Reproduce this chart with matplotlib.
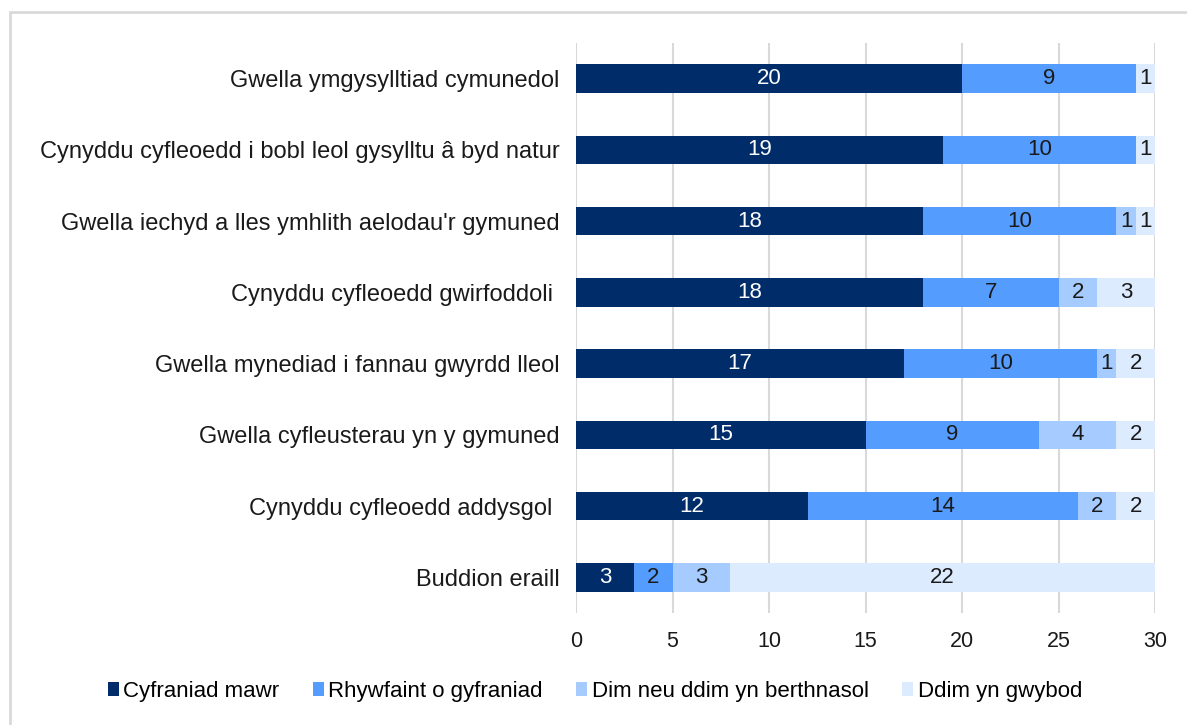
import matplotlib.pyplot as plt
from matplotlib.patches import Rectangle

plt.rcParams['font.family'] = ['Liberation Sans', 'DejaVu Sans']

categories = [
    "Gwella ymgysylltiad cymunedol",
    "Cynyddu cyfleoedd i bobl leol gysylltu â byd natur",
    "Gwella iechyd a lles ymhlith aelodau'r gymuned",
    "Cynyddu cyfleoedd gwirfoddoli ",
    "Gwella mynediad i fannau gwyrdd lleol",
    "Gwella cyfleusterau yn y gymuned",
    "Cynyddu cyfleoedd addysgol ",
    "Buddion eraill",
]
mawr = [20, 19, 18, 18, 17, 15, 12, 3]
rhywfaint = [9, 10, 10, 7, 10, 9, 14, 2]
dim = [0, 0, 1, 2, 1, 4, 2, 3]
ddim_gwybod = [1, 1, 1, 3, 2, 2, 2, 22]

series = [mawr, rhywfaint, dim, ddim_gwybod]
series_names = ["Cyfraniad mawr", "Rhywfaint o gyfraniad",
                "Dim neu ddim yn berthnasol", "Ddim yn gwybod"]
colors = ["#002D6A", "#559CFF", "#A5CBFF", "#DDEBFF"]
text_colors = ["white", "#1a1a1a", "#1a1a1a", "#1a1a1a"]

fig = plt.figure(figsize=(11.87, 7.25), dpi=100)
fig.patches.append(Rectangle((10 / 1187, -0.1), 1.2, 1 - 12 / 725 + 0.1,
                             transform=fig.transFigure, fill=False,
                             edgecolor="#D9D9D9", linewidth=2))
ax = fig.add_axes([576 / 1187, 1 - 613 / 725, (1155 - 576) / 1187, (613 - 43) / 725])

y = range(len(categories))
left = [0] * len(categories)
for vals, name, col, tcol in zip(series, series_names, colors, text_colors):
    bars = ax.barh(y, vals, left=left, height=0.4, color=col, label=name)
    for b, v in zip(bars, vals):
        if v > 0:
            ax.text(b.get_x() + b.get_width() / 2, b.get_y() + b.get_height() / 2,
                    str(v), ha="center", va="center", color=tcol, fontsize=16)
    left = [l + v for l, v in zip(left, vals)]

ax.set_xlim(0, 30)
ax.set_ylim(len(categories) - 0.5, -0.5)
ax.set_xticks(range(0, 31, 5))
ax.set_yticks(list(y))
ax.set_yticklabels(categories, fontsize=17, color="#1a1a1a")
ax.tick_params(axis="x", labelsize=15.5, colors="#1a1a1a", length=0, pad=13)
ax.tick_params(axis="y", length=0, pad=12)
ax.grid(axis="x", color="#D9D9D9", linewidth=1.5)
ax.set_axisbelow(True)
for s in ax.spines.values():
    s.set_visible(False)

fig.legend(loc="center", bbox_to_anchor=(595 / 1187, 1 - 691 / 725), ncol=4,
           frameon=False, fontsize=16, handlelength=0.5, handleheight=0.6,
           handletextpad=0.2, columnspacing=1.5)

fig.savefig("out.png", dpi=100)
